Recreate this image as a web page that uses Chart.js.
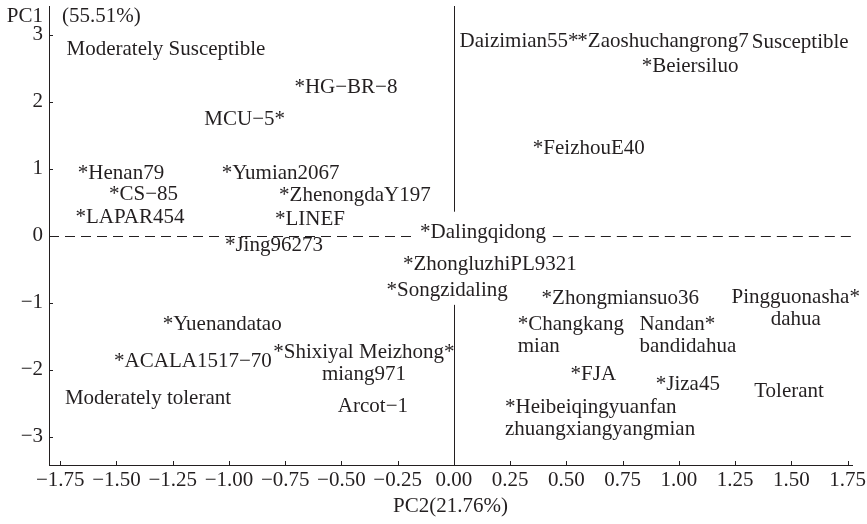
<!DOCTYPE html>
<html>
<head>
<meta charset="utf-8">
<script src="https://cdn.jsdelivr.net/npm/chart.js@4"></script>
<style>
  html, body { margin: 0; padding: 0; background: #fff; }
  canvas { display: block; }
</style>
</head>
<body>
<canvas id="pca" width="867" height="524"></canvas>
<script>
// genotype labels as printed (the * marks the point), with their PC2 / PC1 scores
const genotypes = [
  'Daizimian55*', '*Zaoshuchangrong7', '*Beiersiluo', '*HG\u2212BR\u22128', 'MCU\u22125*',
  '*FeizhouE40', '*Henan79', '*Yumian2067', '*CS\u221285', '*ZhenongdaY197',
  '*LAPAR454', '*LINEF', '*Dalingqidong', '*Jing96273', '*ZhongluzhiPL9321',
  '*Songzidaling', '*Zhongmiansuo36', 'Pingguonasha*\ndahua', '*Changkang\nmian',
  'Nandan*\nbandidahua', '*Yuenandatao', '*ACALA1517\u221270', '*Shixiyal Meizhong*\nmiang971',
  'Arcot\u22121', '*FJA', '*Jiza45', '*Heibeiqingyuanfan\nzhuangxiangyangmian'
];
const pc2 = [
  0.29, 0.93, 1.05, -0.48, -0.93,
  0.60, -1.48, -0.77, -1.38, -0.44,
  -1.44, -0.64, 0.13, -0.80, 0.16,
  -0.03, 0.74, 1.52, 0.52,
  1.04, -1.03, -1.16, -0.40,
  -0.36, 0.62, 1.04, 0.65
];
const pc1 = [
  2.90, 2.90, 2.52, 2.21, 1.73,
  1.31, 0.93, 0.93, 0.61, 0.60,
  0.28, 0.24, 0.05, -0.15, -0.43,
  -0.81, -0.93, -1.09, -1.49,
  -1.49, -1.33, -1.88, -1.91,
  -2.54, -2.07, -2.22, -2.72
];

// quadrant captions
const zoneNames = ['Moderately Susceptible', 'Susceptible', 'Moderately tolerant', 'Tolerant'];
const zoneX = [-1.28, 1.54, -1.36, 1.49];
const zoneY = [2.78, 2.88, -2.42, -2.33];

const xTicks = [-1.75, -1.5, -1.25, -1, -0.75, -0.5, -0.25, 0, 0.25, 0.5, 0.75, 1, 1.25, 1.5, 1.75];
const yTicks = [-3, -2, -1, 0, 1, 2, 3];

const ink = '#231f20';
const font = '"Liberation Serif", "Times New Roman", serif';
// two-line names whose lines start at the same left edge
const leftAligned = new Set(['*Changkang\nmian', 'Nandan*\nbandidahua', '*Heibeiqingyuanfan\nzhuangxiangyangmian']);
// stretches of the origin lines left open for the labels
const vGap = [-1.03, 0.36];
const hGap = [-0.18, 0.44];

const minus = s => s.replace('-', '\u2212');

const pcaText = {
  id: 'pcaText',
  afterDraw(chart) {
    const ctx = chart.ctx;
    const { left, right, top, bottom } = chart.chartArea;
    const xs = chart.scales.x, ys = chart.scales.y;
    ctx.save();
    ctx.strokeStyle = ink;
    ctx.lineWidth = 1;

    // solid vertical line at PC2 = 0
    const x0 = Math.round(xs.getPixelForValue(0)) + 0.5;
    ctx.beginPath();
    ctx.moveTo(x0, top);
    ctx.lineTo(x0, ys.getPixelForValue(vGap[1]));
    ctx.moveTo(x0, ys.getPixelForValue(vGap[0]));
    ctx.lineTo(x0, bottom);
    ctx.stroke();

    // dashed horizontal line at PC1 = 0
    const y0 = Math.round(ys.getPixelForValue(0)) + 0.5;
    ctx.setLineDash([10, 6]);
    ctx.beginPath();
    ctx.moveTo(left, y0);
    ctx.lineTo(xs.getPixelForValue(hGap[0]), y0);
    ctx.moveTo(xs.getPixelForValue(hGap[1]), y0);
    ctx.lineTo(right, y0);
    ctx.stroke();
    ctx.setLineDash([]);

    // tick marks pointing into the plot
    ctx.beginPath();
    xs.ticks.forEach((t, i) => {
      const px = Math.round(xs.getPixelForTick(i)) + 0.5;
      ctx.moveTo(px, bottom);
      ctx.lineTo(px, bottom - 4);
    });
    ys.ticks.forEach((t, i) => {
      const py = Math.round(ys.getPixelForTick(i)) + 0.5;
      ctx.moveTo(left, py);
      ctx.lineTo(left + 4, py);
    });
    ctx.stroke();

    // point labels
    ctx.font = '21px ' + font;
    ctx.fillStyle = ink;
    ctx.textBaseline = 'middle';
    const lineH = 22;
    chart.data.datasets.forEach((ds, di) => {
      chart.getDatasetMeta(di).data.forEach((pt, i) => {
        const name = ds.names[i];
        const lines = name.split('\n');
        const y1 = pt.y - (lines.length - 1) * lineH / 2;
        if (leftAligned.has(name)) {
          const w = Math.max(...lines.map(l => ctx.measureText(l).width));
          ctx.textAlign = 'left';
          lines.forEach((l, k) => ctx.fillText(l, pt.x - w / 2, y1 + k * lineH));
        } else {
          ctx.textAlign = 'center';
          lines.forEach((l, k) => ctx.fillText(l, pt.x, y1 + k * lineH));
        }
      });
    });

    // y axis caption
    ctx.textAlign = 'right';
    ctx.fillText('PC1', left - 6, top + 10);
    ctx.textAlign = 'left';
    ctx.fillText('(55.51%)', left + 13, top + 10);
    ctx.restore();
  }
};

new Chart(document.getElementById('pca'), {
  type: 'scatter',
  data: {
    datasets: [
      {
        names: genotypes,
        data: genotypes.map((g, i) => ({ x: pc2[i], y: pc1[i] })),
        pointRadius: 0,
        pointHoverRadius: 0
      },
      {
        names: zoneNames,
        data: zoneNames.map((z, i) => ({ x: zoneX[i], y: zoneY[i] })),
        pointRadius: 0,
        pointHoverRadius: 0
      }
    ]
  },
  options: {
    responsive: false,
    animation: false,
    events: [],
    layout: { padding: { top: 6, right: 15, bottom: 0, left: 0 } },
    plugins: {
      legend: { display: false },
      tooltip: { enabled: false }
    },
    scales: {
      x: {
        type: 'linear',
        min: -1.8,
        max: 1.77,
        grid: { display: false, drawTicks: false, tickLength: 0 },
        border: { display: true, color: ink, width: 1 },
        afterBuildTicks: scale => { scale.ticks = xTicks.map(v => ({ value: v })); },
        afterFit: scale => {
          scale.height = 59;
          scale.paddingLeft = 0;
          scale.paddingRight = 0;
        },
        ticks: {
          autoSkip: false,
          maxRotation: 0,
          minRotation: 0,
          padding: 3,
          color: ink,
          font: { family: font, size: 21 },
          callback: v => minus(v.toFixed(2))
        },
        title: {
          display: true,
          text: 'PC2(21.76%)',
          color: ink,
          font: { family: font, size: 21 },
          padding: { top: 0, bottom: 5 }
        }
      },
      y: {
        type: 'linear',
        min: -3.42,
        max: 3.43,
        grid: { display: false, drawTicks: false, tickLength: 0 },
        border: { display: true, color: ink, width: 1 },
        afterBuildTicks: scale => { scale.ticks = yTicks.map(v => ({ value: v })); },
        afterFit: scale => {
          scale.width = 49;
          scale.paddingTop = 0;
          scale.paddingBottom = 0;
        },
        ticks: {
          padding: 6,
          color: ink,
          font: { family: font, size: 21 },
          callback: v => minus(String(v))
        }
      }
    }
  },
  plugins: [pcaText]
});
</script>
</body>
</html>
